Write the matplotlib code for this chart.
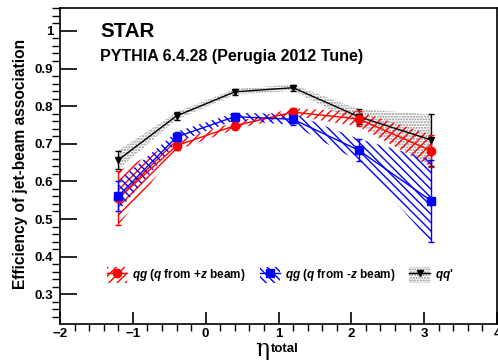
import matplotlib
matplotlib.use("Agg")
import matplotlib.pyplot as plt
from matplotlib.patches import Patch
from matplotlib.lines import Line2D
import numpy as np

plt.rcParams['font.family'] = ['Liberation Sans', 'DejaVu Sans']
plt.rcParams['font.weight'] = 'bold'
plt.rcParams['mathtext.fontset'] = 'custom'
plt.rcParams['mathtext.it'] = 'Liberation Sans:italic:bold'
plt.rcParams['mathtext.rm'] = 'Liberation Sans:bold'
plt.rcParams['hatch.linewidth'] = 1.0

# eta_total bin centres
eta = [-1.2, -0.4, 0.4, 1.2, 2.1, 3.1]

# qg, q from +z beam
eff_plus = [0.555, 0.695, 0.748, 0.784, 0.766, 0.681]
err_plus = [0.072, 0.012, 0.010, 0.010, 0.020, 0.043]

# qg, q from -z beam
eff_minus = [0.561, 0.718, 0.772, 0.765, 0.683, 0.548]
err_minus = [0.040, 0.014, 0.010, 0.015, 0.030, 0.110]

# qq'
eff_qq = [0.657, 0.774, 0.838, 0.849, 0.772, 0.710]
err_qq = [0.025, 0.010, 0.008, 0.008, 0.020, 0.068]

fig = plt.figure(figsize=(4.98, 3.6), dpi=100)
ax = fig.add_axes([0.1205, 0.1, 0.8775, 0.878])

def draw(x, y, e, color, hatch, marker, ms, hatch_color=None):
    x = np.array(x); y = np.array(y); e = np.array(e)
    hc = hatch_color if hatch_color else color
    ax.fill_between(x, y - e, y + e, facecolor='none', edgecolor=hc,
                    hatch=hatch, linewidth=0, zorder=1)
    ax.errorbar(x, y, yerr=e, color=color, marker=marker, ms=ms, lw=1,
                capsize=2, elinewidth=1, zorder=3)

draw(eta, eff_qq, err_qq, 'black', '......', 'v', 5, hatch_color='0.55')
draw(eta, eff_plus, err_plus, 'red', '////', 'o', 6)
draw(eta, eff_minus, err_minus, 'blue', '\\\\\\\\', 's', 5.5)

ax.set_xlim(-2, 4)
ax.set_ylim(0.221, 1.061)
ax.set_xticks([-2, -1, 0, 1, 2, 3, 4])
ax.set_xticks(np.arange(-2, 4.01, 0.2), minor=True)
ax.set_yticks([0.3, 0.4, 0.5, 0.6, 0.7, 0.8, 0.9, 1.0])
ax.set_yticklabels(['0.3', '0.4', '0.5', '0.6', '0.7', '0.8', '0.9', '1'])
ax.set_yticks(np.arange(0.24, 1.061, 0.02), minor=True)
ax.tick_params(direction='in', labelsize=9.5, width=1.2)
ax.tick_params(axis='y', which='major', length=12, pad=5)
ax.tick_params(axis='y', which='minor', length=6, width=1)
ax.tick_params(axis='x', which='major', length=9, pad=3)
ax.tick_params(axis='x', which='minor', length=5, width=1)
for s in ax.spines.values():
    s.set_linewidth(1.2)

ax.set_ylabel('Efficiency of jet-beam association', fontsize=11.2, fontweight='bold')
ax.yaxis.set_label_coords(-0.073, 0.506)
ax.text(0.48, -0.1, '\u03b7', transform=ax.transAxes, fontsize=17,
        ha='right', va='baseline', family='DejaVu Serif', fontweight='normal')
ax.text(0.483, -0.089, 'total', transform=ax.transAxes, fontsize=9.5,
        ha='left', va='baseline')

ax.text(0.092, 0.924, 'STAR', transform=ax.transAxes, fontsize=14.8, va='center')
ax.text(0.092, 0.845, 'PYTHIA 6.4.28 (Perugia 2012 Tune)', transform=ax.transAxes,
        fontsize=11.5, va='center')

handles = [
    (Patch(facecolor='none', edgecolor='red', hatch='////', linewidth=0),
     Line2D([], [], color='red', marker='o', ms=6, lw=1)),
    (Patch(facecolor='none', edgecolor='blue', hatch='\\\\\\\\', linewidth=0),
     Line2D([], [], color='blue', marker='s', ms=5.5, lw=1)),
    (Patch(facecolor='none', edgecolor='0.55', hatch='......', linewidth=0),
     Line2D([], [], color='black', marker='v', ms=5, lw=1)),
]
labels = [r'$qg$ ($q$ from +$z$ beam)', r'$qg$ ($q$ from -$z$ beam)', r"$qq$'"]
ax.legend(handles, labels, ncol=3, loc='center left', bbox_to_anchor=(0.108, 0.155),
          frameon=False, fontsize=8.5, handlelength=1.7, handleheight=1.7,
          columnspacing=1.2, handletextpad=0.42, borderaxespad=0, borderpad=0)

fig.savefig('out.png', dpi=100)
